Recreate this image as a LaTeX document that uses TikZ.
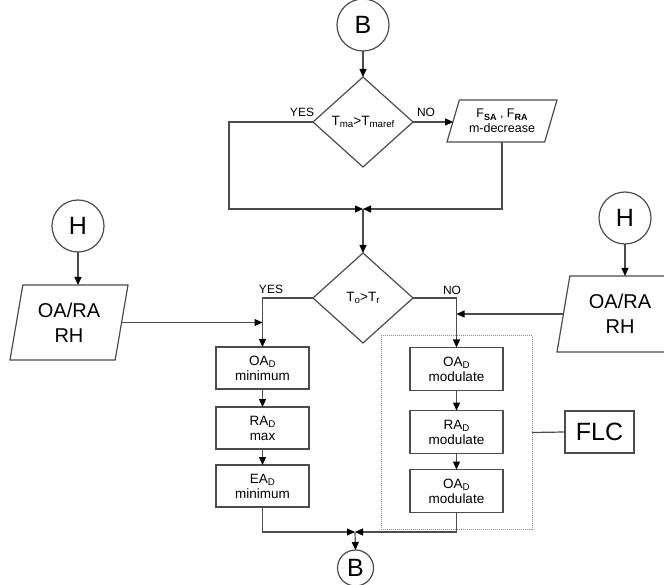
\documentclass[tikz,border=0pt]{standalone}
\usepackage{fontspec}
\setmainfont{Liberation Sans}
\usetikzlibrary{shapes.geometric,arrows.meta}
\newcommand\dn[1]{\raisebox{-0.35ex}{\scalebox{0.72}{#1}}}
\begin{document}
\begin{tikzpicture}[x=1pt,y=-1pt,
  every node/.style={inner sep=0pt, outer sep=0pt, text=black},
  ln/.style={draw=black!70, line width=1.2pt},
  arr/.style={ln, -{Triangle[length=8pt,width=7pt,color=black]}},
  conn/.style={ln, circle, font=\fontsize{25}{25}\selectfont},
  dia/.style={ln, diamond, minimum width=100, minimum height=90},
  pbox/.style={ln, trapezium, trapezium stretches body, align=center},
  stepbox/.style={ln, rectangle, minimum width=93, align=center, font=\fontsize{13.5}{15}\selectfont},
  yn/.style={font=\fontsize{12}{12}\selectfont},
  big/.style={font=\fontsize{20}{25}\selectfont}
]
\clip (0,0) rectangle (664,585);
% top part
\node[conn, minimum size=52] (B1) at (363,25) {B};
\node[dia, label={[font=\fontsize{13.5}{15}\selectfont]center:{T\dn{ma}>T\dn{maref}}}] (d1) at (363,122) {};
\node[yn] (yes1) at (302,112) {YES};
\node[yn] (no1) at (426,112) {NO};
\node[pbox, trapezium left angle=62, trapezium right angle=118, minimum width=110, minimum height=42,
      font=\fontsize{12.5}{15.5}\selectfont] (p1) at (502,121) {F\dn{\textbf{SA}} , F\dn{\textbf{RA}}\\[-1pt]m-decrease};
\coordinate (m1) at (363,209);
\draw[arr] (B1) -- (d1.north);
\draw[arr] (d1.east) -- (d1.east -| p1.west);
\draw[arr] (d1.west) -- ++(-84,0) |- (m1);
\draw[arr] (p1.south) |- (m1);
% second decision
\node[dia, label={[font=\fontsize{13.5}{15}\selectfont]center:{T\dn{o}>T\dn{r}}}] (d2) at (363,298) {};
\draw[arr] (m1) -- (d2.north);
\node[yn] (yes2) at (271,289) {YES};
\node[yn] (no2) at (452,290) {NO};
% left branch
\node[stepbox, minimum height=42] (L1) at (262.5,368) {OA\dn{D}\\minimum};
\node[stepbox, minimum height=42] (L2) at (262.5,428) {RA\dn{D}\\max};
\node[stepbox, minimum height=42] (L3) at (262.5,486) {EA\dn{D}\\minimum};
% right branch
\node[draw=black!45, densely dotted, line width=1pt, minimum width=151, minimum height=193] (grp) at (456.5,432.5) {};
\node[stepbox, minimum height=43] (R1) at (456.5,369) {OA\dn{D}\\modulate};
\node[stepbox, minimum height=43] (R2) at (456.5,432) {RA\dn{D}\\modulate};
\node[stepbox, minimum height=43] (R3) at (456.5,491) {OA\dn{D}\\modulate};
\node[ln, rectangle, minimum width=69, minimum height=42, font=\fontsize{25}{25}\selectfont] (flc) at (599.5,432) {FLC};
\draw[ln] (grp.east) -- (flc.west);
\draw[arr] (d2.west) -| (L1.north);
\draw[arr] (d2.east) -| (R1.north);
\draw[arr] (L1) -- (L2);
\draw[arr] (L2) -- (L3);
\draw[arr] (R1) -- (R2);
\draw[arr] (R2) -- (R3);
% H inputs
\node[conn, minimum size=52] (H1) at (78,226) {H};
\node[pbox, trapezium left angle=72, trapezium right angle=108, minimum width=118, minimum height=75, big] (pl) at (69,322.5) {OA/RA\\RH};
\node[conn, minimum size=52] (H2) at (625,218) {H};
\node[pbox, trapezium left angle=72, trapezium right angle=108, minimum width=126, minimum height=76, big] (pr) at (620,314) {OA/RA\\RH};
\draw[arr] (H1.south) -- (H1.south |- pl.north);
\draw[arr] (H2.south) -- (H2.south |- pr.north);
\draw[arr] (pl.east) -- (pl.east -| L1.north);
\draw[arr] (pr.west) -- (pr.west -| R1.north);
% bottom merge
\coordinate (m2) at (355,532);
\node[conn, minimum size=36] (B2) at (355.5,568) {B};
\draw[arr] (L3.south) |- (m2);
\draw[arr] (R3.south) |- (m2);
\draw[arr] (m2) -- (B2.north);
\end{tikzpicture}
\end{document}
